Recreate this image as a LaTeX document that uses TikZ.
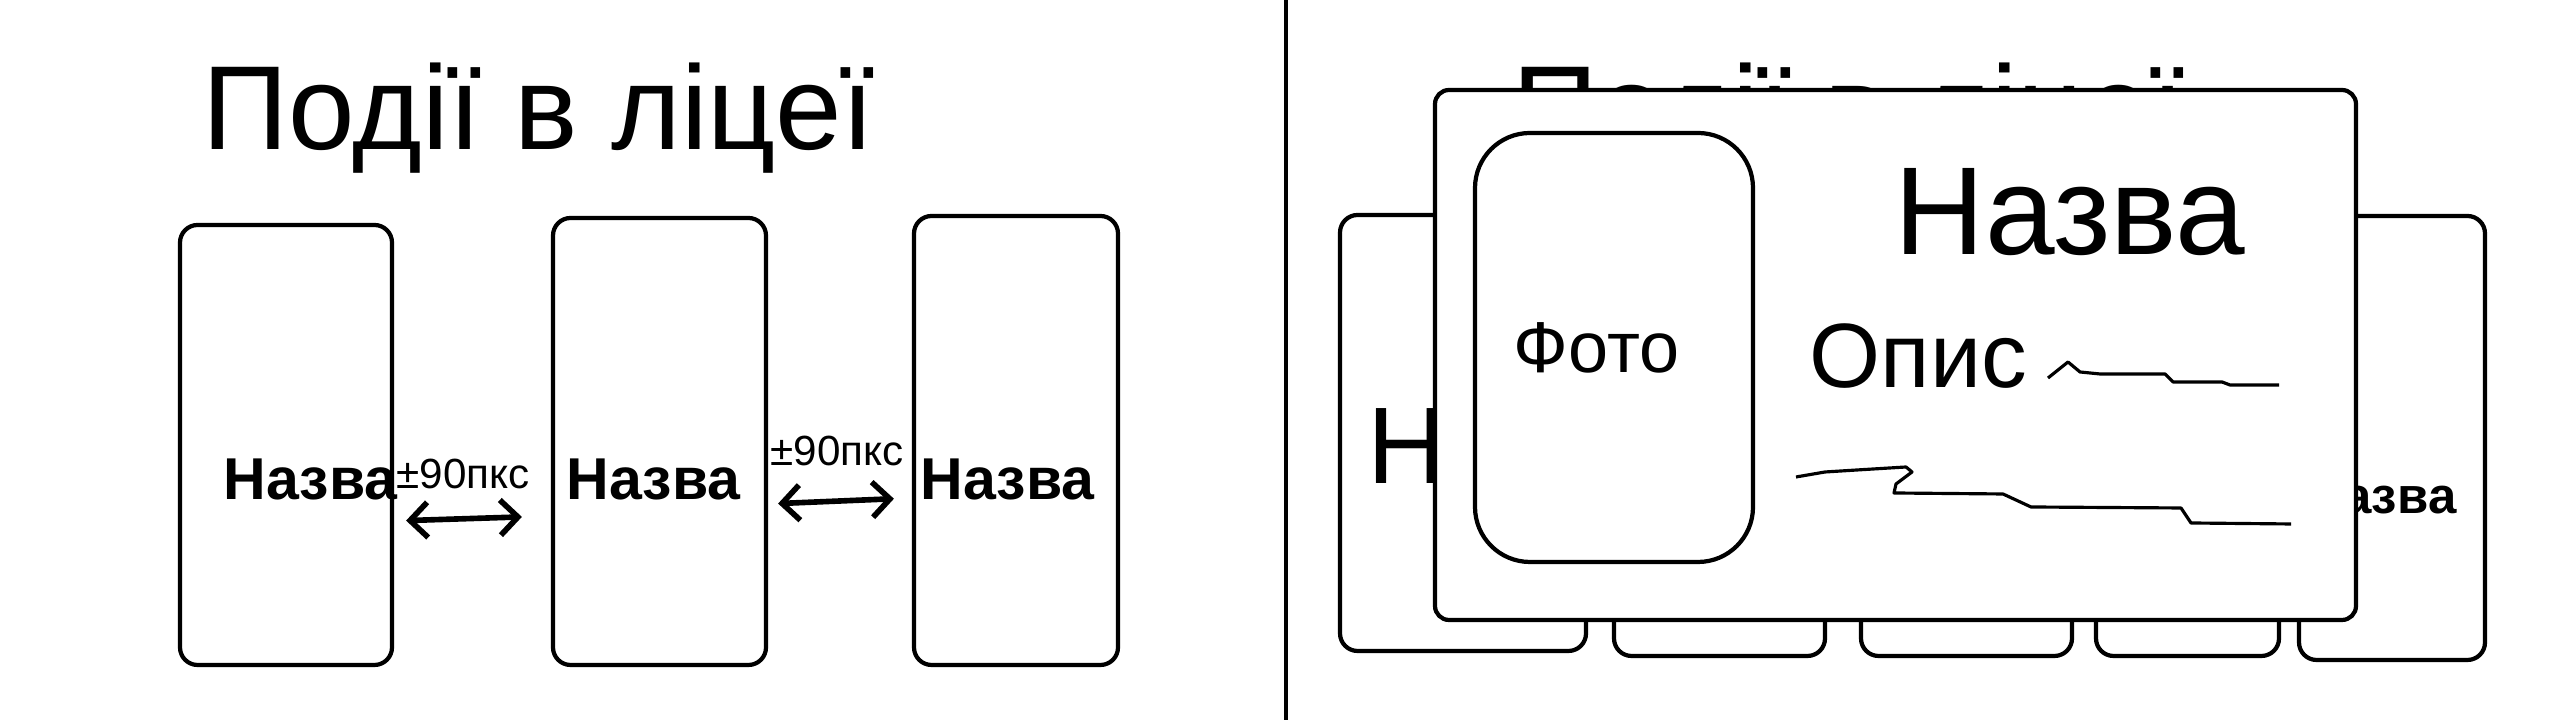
\documentclass[tikz,border=0pt]{standalone}
\usepackage{fontspec}
\setmainfont{Liberation Sans}
\usetikzlibrary{arrows.meta}

\begin{document}
\begin{tikzpicture}[
          cardbx/.style={rectangle, draw, line width=1.2pt, rounded corners=5pt,
                         inner sep=0pt},
          namebx/.style={font=\fontsize{16.8pt}{19pt}\selectfont\bfseries,
                         inner sep=0pt},
          gapbx/.style={font=\fontsize{12pt}{14pt}\selectfont, inner sep=0pt},
          titlebx/.style={font=\fontsize{34pt}{40pt}\selectfont, inner sep=0pt,
                          anchor=base west},
          arr/.style={{Straight Barb[length=5pt]}-{Straight Barb[length=5pt]},
                      line width=1.6pt},
          scrib/.style={line width=0.9pt, line join=round}
        ]
        \fill[white] (0,0) rectangle (25.6,7.2);
        \useasboundingbox (0,0) rectangle (25.6,7.2);

        % left half: list of events with gaps
        \node[titlebx] (title) at (2.02, 5.70) {Події в ліцеї};

        \node[cardbx, minimum width=2.12cm, minimum height=4.40cm] (b1) at (2.86,  2.75) {};
        \node[cardbx, minimum width=2.13cm, minimum height=4.47cm] (b2) at (6.595, 2.785) {};
        \node[cardbx, minimum width=2.04cm, minimum height=4.49cm] (b3) at (10.16, 2.795) {};

        \node[namebx, anchor=base west] (n1) at (2.23, 2.20) {Назва};
        \node[namebx, anchor=base west] (n2) at (5.66, 2.20) {Назва};
        \node[namebx, anchor=base west] (n3) at (9.20, 2.20) {Назва};

        \node[gapbx, anchor=base west] (g1) at (3.96, 2.31) {±90пкс};
        \node[gapbx, anchor=base west] (g2) at (7.70, 2.54) {±90пкс};

        \draw[arr, shorten <=0.12cm, shorten >=0.29cm]
              ([yshift=-0.76cm]b1.east) -- ([yshift=-0.745cm]b2.west);
        \draw[arr, shorten <=0.10cm, shorten >=0.18cm]
              ([yshift=-0.625cm]b2.east) -- ([yshift=-0.575cm]b3.west);

        % separator
        \draw[line width=1pt] (12.86, 7.2) -- (12.86, 0);

        % right half: opened event over the list
        \node[titlebx] (title2) at (15.12, 5.70) {Події в ліцеї};

        \node[cardbx, minimum width=2.46cm, minimum height=4.36cm] (c1) at (14.63,  2.87) {};
        \node[cardbx, minimum width=2.11cm, minimum height=4.40cm] (c2) at (17.195, 2.84) {};
        \node[cardbx, minimum width=2.11cm, minimum height=4.40cm] (c3) at (19.665, 2.84) {};
        \node[cardbx, minimum width=1.83cm, minimum height=4.40cm] (c4) at (21.875, 2.84) {};
        \node[cardbx, minimum width=1.86cm, minimum height=4.44cm] (c5) at (23.92,  2.82) {};

        \node[inner sep=0pt, anchor=base west, font=\fontsize{31pt}{34pt}\selectfont]
              (m1) at (13.67, 2.36) {Назва};
        \node[inner sep=0pt, anchor=base east, font=\fontsize{14.5pt}{17pt}\selectfont\bfseries]
              (m5) at (24.57, 2.06) {Назва};

        \node[cardbx, fill=white, rounded corners=4pt, minimum width=9.21cm,
              minimum height=5.30cm] (big) at (18.955, 3.65) {};
        \node[cardbx, rounded corners=0.55cm, minimum width=2.78cm,
              minimum height=4.29cm] (photo) at (16.14, 3.725) {};

        \node[inner sep=0pt, anchor=base west, font=\fontsize{20.5pt}{24pt}\selectfont]
              (foto) at (15.13, 3.47) {Фото};
        \node[inner sep=0pt, anchor=base west, font=\fontsize{35.6pt}{40pt}\selectfont]
              (bigname) at (18.94, 4.65) {Назва};
        \node[inner sep=0pt, anchor=base west, font=\fontsize{26pt}{30pt}\selectfont]
              (opys) at (18.09, 3.32) {Опис};

        \draw[scrib] (20.48,3.42) -- (20.68,3.58) -- (20.80,3.48) -- (21.00,3.46)
              -- (21.65,3.46) -- (21.73,3.38) -- (22.22,3.38) -- (22.30,3.35)
              -- (22.79,3.35);
        \draw[scrib] (17.96,2.43) -- (18.25,2.48) -- (18.57,2.50) -- (19.06,2.53)
              -- (19.12,2.48) -- (18.96,2.36) -- (18.94,2.27) -- (20.03,2.26)
              -- (20.31,2.13) -- (21.81,2.12) -- (21.91,1.97) -- (22.91,1.96);
      \end{tikzpicture}
\end{document}
